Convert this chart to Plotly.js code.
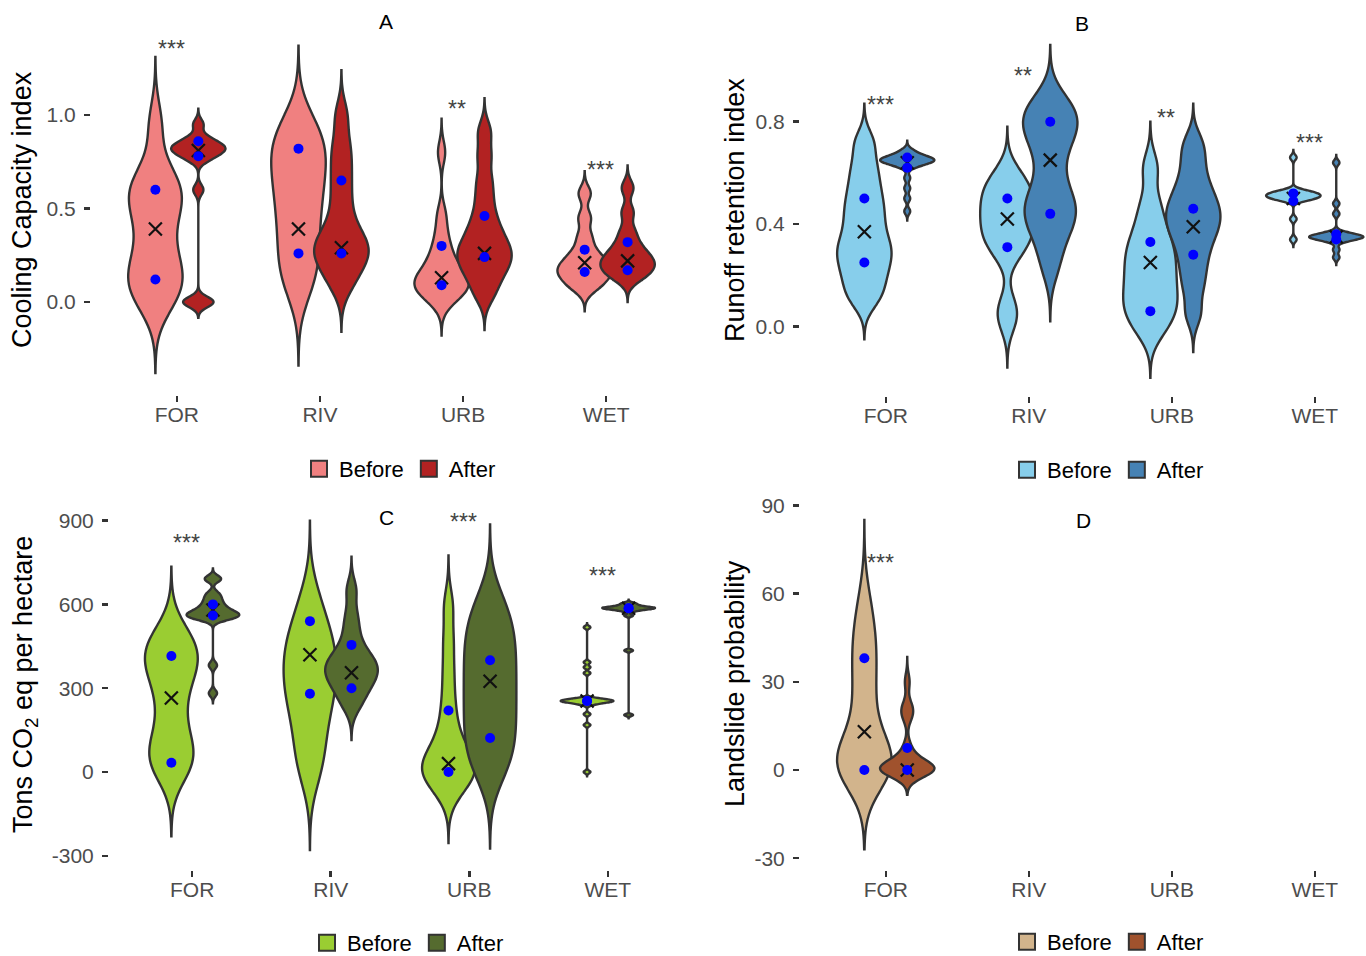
<!DOCTYPE html>
<html><head><meta charset="utf-8">
<script src="https://cdn.plot.ly/plotly-3.0.1.min.js"></script>
<style>body{margin:0;background:#fff}#chart{width:1366px;height:956px}</style>
</head><body><div id="chart"></div>
<script>
// ---------- shared ----------
const categories = ['FOR', 'RIV', 'URB', 'WET'];
const seriesNames = ['Before', 'After'];

// ---------- Panel A : Cooling Capacity index ----------
const coolBefore = [
  [-0.02, 0.05, 0.1, 0.14, 0.2, 0.28, 0.38, 0.48, 0.54, 0.58, 0.63, 0.7, 0.95],
  [0.08, 0.15, 0.24, 0.33, 0.42, 0.5, 0.58, 0.65, 0.72, 0.78, 0.84, 0.9, 0.95],
  [0.0, 0.03, 0.05, 0.07, 0.09, 0.1, 0.11, 0.13, 0.15, 0.18, 0.21, 0.25, 0.3, 0.37, 0.47, 0.8],
  [0.07, 0.1, 0.13, 0.15, 0.17, 0.19, 0.21, 0.24, 0.28, 0.35, 0.45, 0.58]
];
const coolBeforeBw = [0.12, 0.14, 0.06, 0.04];
const coolAfter = [
  [0, 0, 0, 0.6, 0.76, 0.78, 0.8, 0.81, 0.82, 0.83, 0.84, 0.86, 0.88, 0.95],
  [0.08, 0.15, 0.2, 0.24, 0.27, 0.3, 0.33, 0.38, 0.45, 0.55, 0.65, 0.75, 0.85, 1.0],
  [0.03, 0.1, 0.15, 0.19, 0.22, 0.25, 0.28, 0.31, 0.35, 0.4, 0.46, 0.55, 0.65, 0.78, 0.91],
  [0.12, 0.15, 0.17, 0.19, 0.21, 0.23, 0.25, 0.28, 0.32, 0.38, 0.48, 0.61]
];
const coolAfterBw = [0.028, 0.08, 0.06, 0.04];
const coolBeforeDots = [[0.6, 0.12], [0.82, 0.26], [0.30, 0.09], [0.28, 0.16]];
const coolBeforeMean = [0.39, 0.39, 0.13, 0.21];
const coolAfterDots = [[0.86, 0.78], [0.65, 0.26], [0.46, 0.24], [0.32, 0.17]];
const coolAfterMean = [0.81, 0.29, 0.26, 0.22];
const coolStars = ['***', '', '**', '***'];
const coolStarY = [1.38, null, 1.06, 0.73];
const coolTicks = [0, 0.5, 1.0];
const coolTickText = ['0.0', '0.5', '1.0'];

// ---------- Panel B : Runoff retention index ----------
const runoffBefore = [
  [0.1, 0.15, 0.2, 0.24, 0.28, 0.31, 0.35, 0.4, 0.45, 0.5, 0.56, 0.63, 0.72],
  [0.02, 0.08, 0.28, 0.32, 0.35, 0.38, 0.41, 0.44, 0.47, 0.5, 0.53, 0.56, 0.6],
  [-0.02, 0.03, 0.07, 0.1, 0.14, 0.18, 0.22, 0.26, 0.3, 0.34, 0.4, 0.48, 0.62],
  [0.34, 0.42, 0.49, 0.495, 0.5, 0.5, 0.505, 0.51, 0.51, 0.51, 0.515, 0.52, 0.52, 0.525, 0.53, 0.53, 0.66]
];
const runoffBeforeBw = [0.05, 0.06, 0.06, 0.01];
const runoffAfter = [
  [0.45, 0.5, 0.54, 0.58, 0.62, 0.63, 0.635, 0.64, 0.64, 0.645, 0.65, 0.65, 0.65, 0.655, 0.66, 0.66, 0.665, 0.67, 0.68, 0.69],
  [0.23, 0.32, 0.38, 0.42, 0.45, 0.48, 0.52, 0.58, 0.66, 0.72, 0.76, 0.79, 0.82, 0.85, 0.89],
  [0.05, 0.15, 0.22, 0.28, 0.33, 0.37, 0.4, 0.43, 0.46, 0.49, 0.53, 0.58, 0.65, 0.72],
  [0.27, 0.3, 0.33, 0.34, 0.34, 0.345, 0.35, 0.35, 0.35, 0.35, 0.355, 0.36, 0.36, 0.37, 0.44, 0.48, 0.64]
];
const runoffAfterBw = [0.012, 0.07, 0.05, 0.01];
const runoffBeforeDots = [[0.5, 0.25], [0.5, 0.31], [0.33, 0.06], [0.52, 0.49]];
const runoffBeforeMean = [0.37, 0.42, 0.25, 0.5];
const runoffAfterDots = [[0.66, 0.62], [0.8, 0.44], [0.46, 0.28], [0.36, 0.34]];
const runoffAfterMean = [0.64, 0.65, 0.39, 0.35];
const runoffStars = ['***', '**', '**', '***'];
const runoffStarY = [0.886, 1.0, 0.835, 0.737];
const runoffTicks = [0, 0.4, 0.8];
const runoffTickText = ['0.0', '0.4', '0.8'];

// ---------- Panel C : Tons CO2 eq per hectare ----------
const carbonBefore = [
  [10, 30, 60, 100, 170, 250, 320, 370, 400, 430, 460, 495],
  [-9, 60, 130, 200, 250, 290, 330, 370, 410, 450, 490, 540, 630],
  [-74, -40, -15, 0, 15, 30, 50, 80, 120, 180, 260, 360, 470, 595],
  [0, 168, 207, 240, 245, 248, 250, 252, 253, 254, 255, 256, 258, 260, 262, 265, 354, 375, 393, 518]
];
const carbonBeforeBw = [80, 90, 60, 5];
const carbonAfter = [
  [282, 382, 545, 550, 555, 558, 562, 566, 570, 575, 582, 590, 600, 612, 625, 640, 690, 693],
  [234, 270, 300, 320, 340, 355, 370, 385, 400, 420, 450, 500, 560, 651],
  [-4, 50, 100, 150, 200, 250, 300, 350, 400, 450, 500, 550, 616],
  [204, 435, 560, 575, 580, 583, 585, 586, 587, 588, 590, 592, 595, 600, 605]
];
const carbonAfterBw = [12, 40, 90, 4];
const carbonBeforeDots = [[415, 33], [540, 280], [220, 0], [254, 254]];
const carbonBeforeMean = [265, 420, 30, 254];
const carbonAfterDots = [[600, 560], [455, 300], [400, 122], [586, 586]];
const carbonAfterMean = [580, 355, 325, 586];
const carbonStars = ['***', '', '***', '***'];
const carbonStarY = [839, null, 914, 718];
const carbonTicks = [-300, 0, 300, 600, 900];
const carbonTickText = ['-300', '0', '300', '600', '900'];

// ---------- Panel D : Landslide probability ----------
const landBefore = [
  [0, 0, 0, 0, 1, 2, 3, 5, 8, 12, 18, 24, 30, 35, 40, 45, 50, 58], [], [], []
];
const landBeforeBw = [9, 0, 0, 0];
const landAfter = [
  [0, 0, 0, 0, 0, 0, 0, 0, 0, 1, 2, 3, 5, 8, 18, 20, 22, 30], [], [], []
];
const landAfterBw = [2.8, 0, 0, 0];
const landBeforeDots = [[38, 0], [], [], []];
const landBeforeMean = [13, null, null, null];
const landAfterDots = [[7.5, 0], [], [], []];
const landAfterMean = [0, null, null, null];
const landStars = ['***', '', '', ''];
const landStarY = [72, null, null, null];
const landTicks = [-30, 0, 30, 60, 90];
const landTickText = ['-30', '0', '30', '60', '90'];

// ---------- build ----------
const OFFSET = 0.15, VWIDTH = 0.38;
const panels = [
  {sfx: '', legend: 'legend', letter: 'A', title: 'Cooling Capacity index',
   data: [coolBefore, coolAfter], bw: [coolBeforeBw, coolAfterBw], colors: ['#F08080', '#B22222'],
   dots: [coolBeforeDots, coolAfterDots], means: [coolBeforeMean, coolAfterMean],
   stars: coolStars, starY: coolStarY, ticks: coolTicks, tickText: coolTickText},
  {sfx: '2', legend: 'legend2', letter: 'B', title: 'Runoff retention index',
   data: [runoffBefore, runoffAfter], bw: [runoffBeforeBw, runoffAfterBw], colors: ['#87CEEB', '#4682B4'],
   dots: [runoffBeforeDots, runoffAfterDots], means: [runoffBeforeMean, runoffAfterMean],
   stars: runoffStars, starY: runoffStarY, ticks: runoffTicks, tickText: runoffTickText},
  {sfx: '3', legend: 'legend3', letter: 'C', title: 'Tons CO<sub>2</sub> eq per hectare',
   data: [carbonBefore, carbonAfter], bw: [carbonBeforeBw, carbonAfterBw], colors: ['#9ACD32', '#556B2F'],
   dots: [carbonBeforeDots, carbonAfterDots], means: [carbonBeforeMean, carbonAfterMean],
   stars: carbonStars, starY: carbonStarY, ticks: carbonTicks, tickText: carbonTickText},
  {sfx: '4', legend: 'legend4', letter: 'D', title: 'Landslide probability',
   data: [landBefore, landAfter], bw: [landBeforeBw, landAfterBw], colors: ['#D2B48C', '#A0522D'],
   dots: [landBeforeDots, landAfterDots], means: [landBeforeMean, landAfterMean],
   stars: landStars, starY: landStarY, ticks: landTicks, tickText: landTickText}
];

const traces = [];
const annotations = [];
panels.forEach(p => {
  const xa = 'x' + p.sfx, ya = 'y' + p.sfx;
  for (let s = 0; s < 2; s++) {
    categories.forEach((c, i) => {
      const ys = p.data[s][i];
      if (!ys.length) return;
      const bw = p.bw[s][i];
      const lo = Math.min(...ys) - 3 * bw, hi = Math.max(...ys) + 3 * bw;
      traces.push({
        type: 'violin', x0: i + 1 + (s ? OFFSET : -OFFSET), y: ys,
        name: seriesNames[s], showlegend: false,
        xaxis: xa, yaxis: ya, bandwidth: bw, spanmode: 'manual', span: [lo, hi],
        width: VWIDTH, scalemode: 'width', fillcolor: p.colors[s],
        line: {color: '#333333', width: 2.4}, points: false,
        box: {visible: false}, meanline: {visible: false}, hoverinfo: 'skip', opacity: 1
      });
    });
    // legend-only entry (square key like the reference)
    traces.push({type: 'scatter', mode: 'markers', x: [null], y: [null], xaxis: xa, yaxis: ya,
      name: seriesNames[s], legend: p.legend, showlegend: true, hoverinfo: 'skip',
      marker: {symbol: 'square', size: 16, color: p.colors[s], line: {color: '#333333', width: 2}}});
  }
  for (let s = 0; s < 2; s++) {
    const mx = [], my = [], dx = [], dy = [];
    categories.forEach((c, i) => {
      const xpos = i + 1 + (s ? OFFSET : -OFFSET);
      if (p.means[s][i] !== null) { mx.push(xpos); my.push(p.means[s][i]); }
      p.dots[s][i].forEach(v => { dx.push(xpos); dy.push(v); });
    });
    traces.push({type: 'scatter', mode: 'markers', x: mx, y: my, xaxis: xa, yaxis: ya, showlegend: false,
      hoverinfo: 'skip', marker: {symbol: 'x-thin', size: 13, line: {width: 2.2, color: '#111'}}});
    traces.push({type: 'scatter', mode: 'markers', x: dx, y: dy, xaxis: xa, yaxis: ya, showlegend: false,
      hoverinfo: 'skip', marker: {symbol: 'circle', size: 10, color: '#0000FF'}});
  }
  categories.forEach((c, i) => {
    if (!p.stars[i]) return;
    annotations.push({xref: xa, yref: ya, x: i + 1 - 0.04, y: p.starY[i], text: p.stars[i], showarrow: false,
      yshift: -5, font: {size: 23, color: '#444'}});
  });
});

const W = 1366, H = 956;
const px = v => v / W, py = v => 1 - v / H;
// letters & y-axis titles
const letterPos = [[386, 22], [1082, 24], [386, 517], [1083, 520]];
const ytitlePos = [[22, 210], [735, 210], [25, 685], [735, 683]];
panels.forEach((p, k) => {
  annotations.push({xref: 'paper', yref: 'paper', x: px(letterPos[k][0]), y: py(letterPos[k][1]),
    text: p.letter, showarrow: false, font: {size: 21, color: '#000'}, xanchor: 'center', yanchor: 'middle'});
  annotations.push({xref: 'paper', yref: 'paper', x: px(ytitlePos[k][0]), y: py(ytitlePos[k][1]),
    text: p.title, showarrow: false, textangle: -90, font: {size: 27, color: '#000'}, xanchor: 'center', yanchor: 'middle'});
});

const axBase = {showgrid: false, zeroline: false, showline: false, ticks: 'outside', ticklen: 6, tickwidth: 2.5,
  tickcolor: '#333', tickfont: {size: 21, color: '#4D4D4D'}, fixedrange: true, automargin: false};
const xax = (dom, rng, anchor) => Object.assign({}, axBase, {domain: dom, range: rng, anchor: anchor, type: 'linear',
  tickmode: 'array', tickvals: [1, 2, 3, 4], ticktext: categories, ticklabelstandoff: -5});
const yax = (dom, rng, anchor, p) => Object.assign({}, axBase, {domain: dom, range: rng, anchor: anchor,
  tickmode: 'array', tickvals: p.ticks, ticktext: p.tickText, ticklabelstandoff: 4});

const legBase = {orientation: 'h', xanchor: 'center', yanchor: 'middle', font: {size: 22, color: '#000'},
  bgcolor: 'rgba(0,0,0,0)', itemclick: false, itemdoubleclick: false};

const layout = {
  width: W, height: H, margin: {l: 0, r: 0, t: 0, b: 0, autoexpand: false}, paper_bgcolor: '#fff', plot_bgcolor: '#fff',
  font: {family: 'Liberation Sans, Arial, sans-serif'}, violinmode: 'overlay', showlegend: true,
  xaxis: xax([px(91), px(692)], [0.4, 4.6], 'y'),
  yaxis: yax([py(395), py(30)], [(302 - 395) / 187, (302 - 30) / 187], 'x', panels[0]),
  xaxis2: xax([px(800), 1], [0.4, 0.4 + 566 / 143], 'y2'),
  yaxis2: yax([py(396), py(30)], [(326.5 - 396) / 256, (326.5 - 30) / 256], 'x2', panels[1]),
  xaxis3: xax([px(109), px(691)], [0.4, 4.6], 'y3'),
  yaxis3: yax([py(870), py(495)], [(772 - 870) * 3.58, (772 - 495) * 3.58], 'x3', panels[2]),
  xaxis4: xax([px(800), 1], [0.4, 0.4 + 566 / 143], 'y4'),
  yaxis4: yax([py(870), py(495)], [(770 - 870) * 0.34, (770 - 495) * 0.34], 'x4', panels[3]),
  legend: Object.assign({}, legBase, {x: px(400), y: py(469)}),
  legend2: Object.assign({}, legBase, {x: px(1108), y: py(470)}),
  legend3: Object.assign({}, legBase, {x: px(408), y: py(943)}),
  legend4: Object.assign({}, legBase, {x: px(1108), y: py(942)}),
  annotations: annotations
};

Plotly.newPlot('chart', traces, layout, {displayModeBar: false, staticPlot: true});
</script>
</body></html>
